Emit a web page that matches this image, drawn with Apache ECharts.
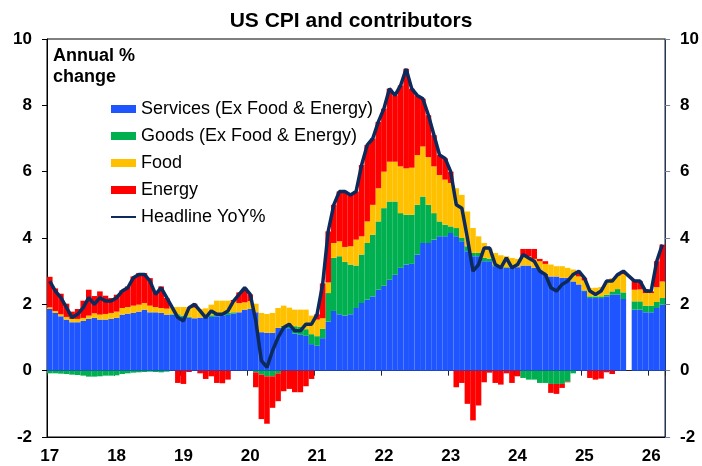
<!DOCTYPE html>
<html>
<head>
<meta charset="utf-8">
<script src="https://cdn.jsdelivr.net/npm/echarts@6/dist/echarts.min.js"></script>
<style>
  html, body { margin: 0; padding: 0; background: #fff; }
  #chart { width: 702px; height: 466px; }
</style>
</head>
<body>
<div id="chart"></div>
<script>
// monthly slots Jan-2017 .. Mar-2026 (111), year labels on the first month
const yearLabels = ["17", "18", "19", "20", "21", "22", "23", "24", "25", "26"];
const months = [];
yearLabels.forEach((y) => {
  for (let m = 1; m <= 12; m++) months.push(y + "-" + String(m).padStart(2, "0"));
});
months.length = 111;

// contributions to annual % change (ppt)
const services = [
  1.86, 1.74, 1.64, 1.54, 1.46, 1.46, 1.50, 1.56, 1.59, 1.54, 1.54,
  1.56, 1.59, 1.69, 1.72, 1.74, 1.78, 1.84, 1.76, 1.76, 1.74, 1.69, 1.68,
  1.66, 1.62, 1.60, 1.58, 1.60, 1.60, 1.62, 1.64, 1.66, 1.68, 1.72, 1.76,
  1.84, 1.86, 1.76, 1.16, 1.14, 1.14, 1.29, 1.30, 1.28, 1.12, 1.08, 1.05,
  0.80, 0.75, 0.98, 1.48, 1.80, 1.70, 1.66, 1.70, 1.89, 2.04, 2.14, 2.24,
  2.44, 2.56, 2.74, 2.89, 3.10, 3.20, 3.22, 3.50, 3.85, 3.85, 3.95, 4.05,
  4.05, 4.15, 4.05, 3.90, 3.60, 3.45, 3.45, 3.30, 3.30, 3.15, 3.12, 3.10,
  3.10, 3.12, 3.17, 3.17, 3.10, 3.05, 2.92, 2.84, 2.84, 2.80, 2.80, 2.69,
  2.60, 2.40, 2.19, 2.19, 2.19, 2.24, 2.29, 2.30, 2.16, null, 1.84, 1.84,
  1.76, 1.76, 1.89, 1.99
];
const goods = [
  -0.08, -0.08, -0.09, -0.10, -0.12, -0.13, -0.15, -0.18, -0.18, -0.17, -0.15,
  -0.15, -0.14, -0.10, -0.08, -0.06, -0.05, -0.04, -0.03, -0.04, -0.05, -0.03, 0.02,
  0.04, 0.04, 0.02, 0.00, 0.00, 0.04, 0.05, 0.08, 0.08, 0.06, 0.04, 0.00,
  0.00, 0.00, -0.05, -0.12, -0.17, -0.17, -0.08, 0.05, 0.10, 0.22, 0.24, 0.20,
  0.30, 0.29, 0.28, 0.86, 1.60, 1.75, 1.62, 1.50, 1.28, 1.46, 1.71, 1.86,
  2.06, 2.34, 2.36, 2.21, 1.65, 1.50, 1.48, 1.50, 1.40, 1.15, 0.80, 0.45,
  0.35, 0.20, 0.25, 0.10, 0.15, 0.10, 0.10, 0.10, 0.08, 0.03, 0.02, 0.02,
  0.00, 0.00, -0.22, -0.27, -0.27, -0.37, -0.37, -0.40, -0.40, -0.40, -0.33, -0.08,
  0.00, 0.02, 0.05, 0.05, 0.05, 0.05, 0.10, 0.16, 0.20, null, 0.25, 0.25,
  0.20, 0.20, 0.18, 0.20
];
const food = [
  0.05, 0.06, 0.06, 0.08, 0.10, 0.10, 0.09, 0.10, 0.14, 0.15, 0.17,
  0.18, 0.19, 0.20, 0.20, 0.22, 0.21, 0.20, 0.20, 0.16, 0.15, 0.18, 0.22,
  0.22, 0.26, 0.30, 0.32, 0.26, 0.24, 0.32, 0.39, 0.37, 0.37, 0.33, 0.28,
  0.22, 0.24, 0.26, 0.58, 0.57, 0.60, 0.60, 0.61, 0.52, 0.50, 0.52, 0.59,
  0.56, 0.50, 0.32, 0.32, 0.45, 0.45, 0.45, 0.55, 0.78, 0.55, 0.65, 0.90,
  1.00, 1.10, 1.20, 1.20, 1.41, 1.40, 1.42, 1.50, 1.51, 1.44, 1.41, 1.40,
  1.36, 1.31, 1.20, 1.30, 1.05, 0.75, 0.50, 0.45, 0.30, 0.37, 0.34, 0.33,
  0.30, 0.25, 0.28, 0.28, 0.27, 0.25, 0.30, 0.36, 0.31, 0.35, 0.30, 0.36,
  0.24, 0.30, 0.25, 0.26, 0.28, 0.40, 0.40, 0.40, 0.55, null, 0.35, 0.36,
  0.38, 0.38, 0.45, 0.50
];
const energy = [
  0.92, 0.68, 0.62, 0.40, 0.22, 0.30, 0.52, 0.78, 0.52, 0.70, 0.55,
  0.45, 0.51, 0.53, 0.62, 0.88, 0.95, 0.90, 0.83, 0.47, 0.65, 0.32, 0.00,
  -0.37, -0.40, -0.04, 0.12, -0.08, -0.25, -0.17, -0.37, -0.38, -0.27, 0.04, 0.32,
  0.43, 0.20, -0.45, -1.34, -1.43, -0.95, -0.84, -0.62, -0.55, -0.65, -0.65, -0.47,
  -0.25, 0.16, 1.05, 1.54, 1.15, 1.50, 1.67, 1.55, 1.45, 2.15, 2.30, 2.00,
  2.00, 1.90, 2.20, 2.00, 2.44, 3.00, 2.38, 1.80, 1.44, 1.26, 0.94, 0.60,
  0.64, 0.34, -0.50, -0.37, -1.00, -1.50, -1.05, -0.35, -0.06, -0.37, -0.42, -0.08,
  -0.37, -0.17, 0.22, 0.22, 0.30, 0.07, 0.08, -0.27, -0.30, -0.12, -0.02, 0.00,
  0.14, 0.08, -0.22, -0.27, -0.24, -0.05, -0.10, 0.03, 0.10, null, 0.30, 0.25,
  0.12, 0.05, 0.78, 1.11
];
const headline = [
  2.7, 2.4, 2.2, 1.9, 1.6, 1.7, 1.9, 2.2, 2.0, 2.2, 2.1,
  2.1, 2.2, 2.4, 2.5, 2.8, 2.9, 2.9, 2.7, 2.3, 2.5, 2.2, 1.9,
  1.6, 1.5, 1.9, 2.0, 1.8, 1.6, 1.8, 1.7, 1.7, 1.8, 2.1, 2.3,
  2.5, 2.3, 1.5, 0.3, 0.1, 0.6, 1.0, 1.3, 1.4, 1.2, 1.2, 1.4,
  1.4, 1.7, 2.6, 4.2, 5.0, 5.4, 5.4, 5.3, 5.4, 6.2, 6.8, 7.0,
  7.5, 7.9, 8.5, 8.3, 8.6, 9.1, 8.5, 8.3, 8.2, 7.7, 7.1, 6.5,
  6.4, 6.0, 5.0, 4.9, 4.0, 3.0, 3.2, 3.7, 3.7, 3.2, 3.1, 3.4,
  3.1, 3.2, 3.5, 3.4, 3.3, 3.0, 2.9, 2.5, 2.4, 2.6, 2.7, 2.9,
  3.0, 2.8, 2.4, 2.3, 2.4, 2.7, 2.7, 2.9, 3.0, null, 2.7, 2.7,
  2.4, 2.4, 3.3, 3.8
];

const FONT = "'Liberation Sans', Arial, sans-serif";
const yearStart = (i) => i % 12 === 0;

const chart = echarts.init(document.getElementById("chart"));

const bar = (name, data, color) => ({
  name,
  type: "bar",
  stack: "cpi",
  data,
  barCategoryGap: "0%",
  itemStyle: { color },
  emphasis: { disabled: true },
});

const tickLabel = { fontSize: 17, fontWeight: "bold", color: "#000", fontFamily: FONT };

chart.setOption({
  animation: false,
  backgroundColor: "#fff",
  textStyle: { fontFamily: FONT },
  title: {
    text: "US CPI and contributors",
    left: "center",
    top: 6,
    textStyle: { fontSize: 21, fontWeight: "bold", color: "#000", fontFamily: FONT },
  },
  graphic: [
    {
      type: "text",
      left: 53,
      top: 46,
      style: {
        text: "Annual %\nchange",
        font: "bold 18px " + FONT,
        fill: "#000",
        lineHeight: 21,
      },
    },
  ],
  legend: {
    orient: "vertical",
    left: 105,
    top: 95,
    itemWidth: 25,
    itemHeight: 8,
    itemGap: 9,
    textStyle: { fontSize: 18, color: "#000", fontFamily: FONT, lineHeight: 18 },
    data: [
      { name: "Services (Ex Food & Energy)", icon: "rect" },
      { name: "Goods (Ex Food & Energy)", icon: "rect" },
      { name: "Food", icon: "rect" },
      { name: "Energy", icon: "rect" },
      { name: "Headline YoY%", itemStyle: { opacity: 0 } },
    ],
  },
  grid: {
    left: 47,
    right: 34,
    top: 39,
    bottom: 29,
    show: true,
    borderColor: "#000",
    borderWidth: 1,
  },
  xAxis: [
    {
      type: "category",
      data: months,
      position: "bottom",
      axisLine: { onZero: false, lineStyle: { color: "#000" } },
      axisTick: { show: false },
      axisLabel: Object.assign({
        interval: (i) => yearStart(i),
        formatter: (v) => v.slice(0, 2),
        margin: 11,
      }, tickLabel),
      splitLine: { show: false },
    },
    {
      type: "category",
      data: months,
      position: "bottom",
      axisLine: { onZero: true, lineStyle: { color: "#222", width: 1 } },
      axisTick: {
        show: true,
        interval: (i) => yearStart(i),
        length: 5,
        lineStyle: { color: "#222" },
      },
      axisLabel: { show: false },
      splitLine: { show: false },
    },
  ],
  yAxis: [
    {
      type: "value",
      min: -2,
      max: 10,
      interval: 2,
      position: "left",
      axisLine: { show: true, lineStyle: { color: "#000" } },
      axisTick: { show: true, length: 5, lineStyle: { color: "#000" } },
      axisLabel: Object.assign({ margin: 15 }, tickLabel),
      splitLine: { show: false },
    },
    {
      type: "value",
      min: -2,
      max: 10,
      interval: 2,
      position: "right",
      axisLine: { show: true, lineStyle: { color: "#1f3864" } },
      axisTick: { show: true, length: 5, lineStyle: { color: "#6f7fa6" } },
      axisLabel: Object.assign({ margin: 15 }, tickLabel),
      splitLine: { show: false },
    },
  ],
  series: [
    bar("Services (Ex Food & Energy)", services, "#1f55ff"),
    bar("Goods (Ex Food & Energy)", goods, "#00b050"),
    bar("Food", food, "#ffc000"),
    bar("Energy", energy, "#ff0000"),
    {
      name: "Headline YoY%",
      type: "line",
      data: headline,
      symbol: "none",
      connectNulls: true,
      lineStyle: { color: "#0c2a5c", width: 3.5 },
      itemStyle: { color: "#0c2a5c" },
      z: 5,
      emphasis: { disabled: true },
    },
  ],
});
</script>
</body>
</html>
